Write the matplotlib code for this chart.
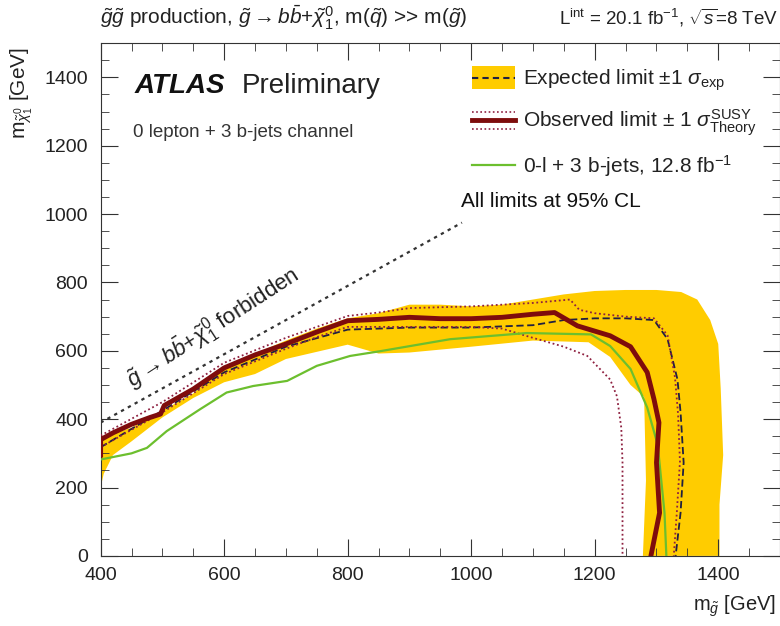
import matplotlib
matplotlib.use('Agg')
import matplotlib.pyplot as plt
from matplotlib.lines import Line2D
from matplotlib.patches import Rectangle, Polygon
from matplotlib.legend_handler import HandlerBase
from matplotlib.ticker import MultipleLocator

plt.rcParams['font.family'] = ['Liberation Sans', 'DejaVu Sans']
plt.rcParams['mathtext.fontset'] = 'custom'
plt.rcParams['mathtext.rm'] = 'Liberation Sans'
plt.rcParams['mathtext.it'] = 'Liberation Sans:italic'
plt.rcParams['mathtext.bf'] = 'Liberation Sans:bold'

# expected +-1 sigma band: outer edge (left->right, then down), inner edge (right->left)
band_out_x = [400, 450, 500, 550, 600, 650, 700, 750, 800, 850, 900, 950, 1000, 1050, 1100,
              1150, 1200, 1250, 1300, 1340, 1366, 1387, 1400, 1404, 1408, 1402, 1402]
band_out_y = [345, 375, 425, 475, 555, 592, 630, 665, 695, 710, 735, 735, 730, 735, 750,
              765, 775, 778, 778, 772, 750, 690, 620, 490, 295, 150, 0]
band_in_x = [1278, 1283, 1280, 1258, 1225, 1190, 1100, 1000, 900, 850, 800, 700, 650, 600,
             550, 500, 450, 420, 405, 400]
band_in_y = [0, 220, 465, 500, 582, 625, 630, 612, 595, 592, 618, 576, 532, 508,
             462, 405, 335, 295, 240, 200]

# expected limit
exp_x = [400, 500, 600, 700, 800, 900, 1000, 1100, 1150, 1200, 1250, 1296, 1318, 1334, 1339,
         1344, 1339, 1331]
exp_y = [318, 425, 537, 612, 662, 668, 668, 675, 690, 695, 695, 690, 634, 516, 420,
         273, 126, 0]

# observed limit
obs_x = [400, 400, 420, 450, 480, 497, 503, 550, 600, 650, 700, 750, 800, 850, 900, 950,
         1000, 1050, 1100, 1135, 1172, 1225, 1258, 1285, 1296, 1304, 1300, 1305, 1291]
obs_y = [295, 340, 360, 385, 405, 415, 440, 488, 550, 588, 620, 655, 688, 692, 698, 694,
         694, 698, 707, 712, 673, 644, 612, 537, 458, 390, 273, 126, 0]

# observed +-1 sigma theory
obs_up_x = [400, 500, 600, 700, 800, 850, 900, 1000, 1100, 1160, 1175, 1200, 1250, 1296,
            1318, 1330, 1335, 1338, 1333, 1328]
obs_up_y = [352, 450, 565, 638, 702, 712, 725, 730, 740, 750, 720, 710, 700, 695,
            645, 522, 414, 276, 128, 0]
obs_dn_x = [400, 500, 600, 700, 750, 800, 900, 1000, 1050, 1096, 1150, 1188, 1225, 1236,
            1243, 1245, 1245]
obs_dn_y = [318, 420, 532, 606, 640, 670, 670, 670, 665, 640, 612, 585, 516, 467,
            375, 273, 0]

# 0-l + 3 b-jets, 12.8 fb-1
old_x = [400, 450, 475, 507, 561, 604, 647, 702, 750, 804, 853, 966, 1090, 1194, 1225,
         1258, 1285, 1302, 1313, 1316]
old_y = [282, 300, 316, 365, 429, 478, 497, 512, 556, 585, 599, 634, 652, 648, 614,
         547, 434, 325, 126, 0]

# kinematic limit m(chi) = m(g) - 2 m(b)
kin_x = [400, 985]
kin_y = [390, 975]

legend_labels = [r'Expected limit $\pm 1\ \sigma_{\rm exp}$',
                 r'Observed limit $\pm$ 1 $\sigma^{\rm SUSY}_{\rm Theory}$',
                 r'0-l + 3 b-jets, 12.8 fb$^{-1}$']

yellow = '#FFCC00'
darkred = '#7E0C0C'
dotred = '#8E2040'
green = '#6CBF2E'
navy = '#202040'

fig = plt.figure(figsize=(7.8, 6.26), dpi=100)
ax = fig.add_axes([0.129, 0.112, 0.871, 0.819])

band = Polygon(list(zip(band_out_x + band_in_x, band_out_y + band_in_y)), closed=True,
               facecolor=yellow, edgecolor='none', zorder=1)
ax.add_patch(band)
ax.plot(exp_x, exp_y, color=navy, ls=(0, (4, 2)), lw=1.3, zorder=3)
ax.plot(obs_up_x, obs_up_y, color=dotred, ls=(0, (1, 1.5)), lw=1.3, zorder=3)
ax.plot(obs_dn_x, obs_dn_y, color=dotred, ls=(0, (1, 1.5)), lw=1.3, zorder=3)
ax.plot(old_x, old_y, color=green, lw=1.6, zorder=4)
ax.plot(obs_x, obs_y, color=darkred, lw=3.5, zorder=5)
ax.plot(kin_x, kin_y, color='#333333', ls=(0, (1.5, 2)), lw=1.6, zorder=2)

ax.set_xlim(400, 1500)
ax.set_ylim(0, 1500)
ax.xaxis.set_major_locator(MultipleLocator(200))
ax.xaxis.set_minor_locator(MultipleLocator(50))
ax.yaxis.set_major_locator(MultipleLocator(200))
ax.yaxis.set_minor_locator(MultipleLocator(50))
ax.tick_params(which='both', direction='in', top=True, right=True, labelsize=14,
               colors='#333333', labelcolor='#222222')
ax.tick_params(which='major', length=12)
ax.tick_params(which='minor', length=6)
ax.tick_params(axis='x', pad=8)
ax.tick_params(axis='y', pad=9)
for s in ax.spines.values():
    s.set_color('#333333')

ax.text(0.050, 0.9025, 'ATLAS', transform=ax.transAxes, fontsize=20, fontweight='bold',
        fontstyle='italic', color='#111111')
ax.text(0.208, 0.9025, 'Preliminary', transform=ax.transAxes, fontsize=20, color='#222222')
ax.text(0.047, 0.817, '0 lepton + 3 b-jets channel', transform=ax.transAxes, fontsize=13.5,
        color='#333333')
ax.text(0.531, 0.68, 'All limits at 95% CL', transform=ax.transAxes, fontsize=15,
        color='#111111')
ax.text(452, 490, r'$\tilde{g} \rightarrow b\bar{b}$+$\tilde{\chi}_1^0$ forbidden',
        fontsize=16, rotation=33, rotation_mode='anchor', ha='left', va='baseline',
        color='#222222')

fig.text(0.128, 0.971, r'$\tilde{g}\tilde{g}$ production, $\tilde{g} \rightarrow b\bar{b}$+$\tilde{\chi}_1^0$, m($\tilde{q}$) >> m($\tilde{g}$)',
         fontsize=15, va='center', color='#222222')
fig.text(0.997, 0.971, r'L$^{\rm int}$ = 20.1 fb$^{-1}$, $\sqrt{s}$=8 TeV',
         fontsize=13.5, va='center', ha='right', color='#222222')
fig.text(0.995, 0.031, r'm$_{\tilde{g}}$ [GeV]', fontsize=14.5, ha='right', va='center',
         color='#222222')
fig.text(0.028, 0.925, r'm$_{\tilde{\chi}_1^0}$ [GeV]', fontsize=15, ha='center', va='top',
         rotation=90, color='#222222')


class ExpHandler(HandlerBase):
    def create_artists(self, legend, orig_handle, xdescent, ydescent, width, height,
                       fontsize, trans):
        r = Rectangle((-xdescent, -ydescent - 0.3 * height), width, height * 1.6,
                      facecolor=yellow, edgecolor='none', transform=trans)
        y0 = height / 2 - ydescent
        l = Line2D([-xdescent, width - xdescent], [y0, y0], color=navy, lw=1.5,
                   ls=(0, (3, 2)), transform=trans)
        return [r, l]


class ObsHandler(HandlerBase):
    def create_artists(self, legend, orig_handle, xdescent, ydescent, width, height,
                       fontsize, trans):
        y0 = height / 2 - ydescent
        out = []
        for dy, lw, ls, c in [(0.6 * height, 1.2, (0, (1, 1.5)), dotred),
                              (0, 3.5, '-', darkred),
                              (-0.6 * height, 1.2, (0, (1, 1.5)), dotred)]:
            out.append(Line2D([-xdescent, width - xdescent], [y0 + dy, y0 + dy], color=c,
                              lw=lw, ls=ls, transform=trans))
        return out


h_exp = Rectangle((0, 0), 1, 1)
h_obs = Line2D([], [])
h_old = Line2D([], [], color=green, lw=1.6)
leg = ax.legend([h_exp, h_obs, h_old], legend_labels,
                handler_map={h_exp: ExpHandler(), h_obs: ObsHandler()},
                loc='upper left', bbox_to_anchor=(0.546, 0.952), frameon=False, fontsize=15,
                handlelength=2.1, handletextpad=0.38, labelspacing=0.7, borderaxespad=0,
                borderpad=0)
for t in leg.get_texts():
    t.set_color('#222222')

fig.savefig('out.png', dpi=100)
